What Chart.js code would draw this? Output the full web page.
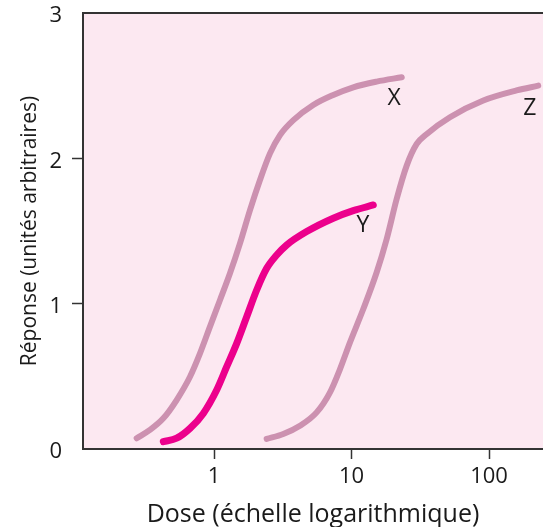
<!DOCTYPE html>
<html>
<head>
<meta charset="utf-8">
<script src="https://cdn.jsdelivr.net/npm/chart.js@4/dist/chart.umd.min.js"></script>
<style>
  html, body { margin: 0; padding: 0; background: #fff; }
  #box { width: 543px; height: 527px; }
</style>
</head>
<body>
<div id="box"><canvas id="myChart"></canvas></div>
<script>
// courbes dose-réponse
var doseX = [0.274, 0.342, 0.428, 0.535, 0.669, 0.791, 0.935, 1.106, 1.307, 1.545, 1.827, 2.16, 2.554, 3.02, 3.78, 5.27, 7.37, 10.3, 15.25, 23.2];
var repX  = [0.074, 0.131, 0.211, 0.337, 0.497, 0.658, 0.842, 1.025, 1.209, 1.415, 1.644, 1.851, 2.034, 2.16, 2.263, 2.367, 2.436, 2.489, 2.528, 2.558];

var doseY = [0.428, 0.535, 0.669, 0.836, 1.046, 1.237, 1.463, 1.729, 2.044, 2.416, 2.857, 3.38, 4.72, 7.37, 10.3, 14.4];
var repY  = [0.05, 0.074, 0.142, 0.245, 0.406, 0.566, 0.727, 0.91, 1.094, 1.243, 1.335, 1.404, 1.496, 1.588, 1.64, 1.679];

var doseZ = [2.416, 3.19, 4.22, 5.58, 6.98, 8.25, 9.75, 12.18, 15.25, 18.03, 21.3, 25.2, 29.8, 35.3, 52, 90.9, 158.6, 228];
var repZ  = [0.069, 0.103, 0.16, 0.252, 0.39, 0.55, 0.734, 0.963, 1.216, 1.445, 1.72, 1.95, 2.099, 2.168, 2.283, 2.398, 2.467, 2.5];

var xTicks = [1, 10, 100];
var yTicks = [0, 1, 2, 3];

var noms = ['X', 'Y', 'Z'];
var posNoms = [[20.4, 2.41], [12.1, 1.535], [198, 2.345]];

function points(d, r) {
    return d.map(function (v, i) { return {x: v, y: r[i]}; });
}

var police = '"Open Sans", "DejaVu Sans", sans-serif';
var encre = '#1a1a1a';

// fond rose, bord du haut et lettres des courbes
const decor = {
    id: 'decor',
    beforeDraw(chart) {
        var a = chart.chartArea, ctx = chart.ctx;
        ctx.save();
        ctx.fillStyle = '#fce8f1';
        ctx.fillRect(a.left, a.top, a.right - a.left, a.bottom - a.top);
        ctx.restore();
    },
    afterDraw(chart) {
        var a = chart.chartArea, ctx = chart.ctx;
        ctx.save();
        ctx.strokeStyle = '#333';
        ctx.lineWidth = 2;
        ctx.beginPath();
        ctx.moveTo(a.left - 1, a.top);
        ctx.lineTo(a.right, a.top);
        ctx.stroke();
        ctx.fillStyle = encre;
        ctx.font = '23px ' + police;
        ctx.textAlign = 'center';
        ctx.textBaseline = 'middle';
        noms.forEach(function (n, i) {
            var px = chart.scales.x.getPixelForValue(posNoms[i][0]);
            var py = chart.scales.y.getPixelForValue(posNoms[i][1]);
            ctx.fillText(n, px, py);
        });
        ctx.restore();
    }
};

var ctx1 = document.getElementById('myChart').getContext('2d');
const myChart = new Chart(ctx1, {
    type: 'line',
    data: {
        datasets: [{
            label: 'X',
            data: points(doseX, repX),
            borderColor: '#cc91b0',
            borderWidth: 6
        }, {
            label: 'Z',
            data: points(doseZ, repZ),
            borderColor: '#cc91b0',
            borderWidth: 6
        }, {
            label: 'Y',
            data: points(doseY, repY),
            borderColor: '#ec008c',
            borderWidth: 7
        }]
    },
    options: {
        responsive: true,
        maintainAspectRatio: false,
        animation: false,
        layout: { padding: { top: 13, right: 0, left: 0, bottom: 0 } },
        elements: {
            point: { radius: 0 },
            line: { cubicInterpolationMode: 'monotone', borderCapStyle: 'round', borderJoinStyle: 'round', fill: false }
        },
        plugins: {
            legend: { display: false },
            tooltip: { enabled: false }
        },
        scales: {
            x: {
                type: 'logarithmic',
                min: 0.1115,
                max: 247,
                afterBuildTicks: function (s) {
                    s.ticks = xTicks.map(function (v) { return {value: v}; });
                },
                afterFit: function (s) { s.height = 78; },
                ticks: {
                    color: encre,
                    font: { family: police, size: 22 },
                    padding: 5,
                    maxRotation: 0,
                    autoSkip: false,
                    callback: function (v) { return String(v); }
                },
                grid: { drawOnChartArea: false, drawTicks: true, tickLength: 10, tickColor: '#333', tickWidth: 1.5 },
                border: { display: true, color: '#333', width: 2 },
                title: {
                    display: true,
                    text: 'Dose (échelle logarithmique)',
                    color: encre,
                    font: { family: police, size: 25, lineHeight: 1 },
                    padding: { top: 0, bottom: 0 }
                }
            },
            y: {
                min: 0,
                max: 3,
                afterBuildTicks: function (s) {
                    s.ticks = yTicks.map(function (v) { return {value: v}; });
                },
                afterFit: function (s) { s.width = 83; },
                ticks: {
                    color: encre,
                    font: { family: police, size: 22, lineHeight: 0.2 },
                    padding: 10,
                    labelOffset: 3,
                    callback: function (v) { return String(v); }
                },
                grid: {
                    drawOnChartArea: false,
                    drawTicks: true,
                    tickLength: 11,
                    tickWidth: 1.5,
                    tickColor: function (c) {
                        return (c.tick && (c.tick.value === 1 || c.tick.value === 2)) ? '#333' : 'rgba(0,0,0,0)';
                    }
                },
                border: { display: true, color: '#333', width: 2 },
                title: {
                    display: true,
                    text: 'Réponse (unités arbitraires)',
                    color: encre,
                    font: { family: police, size: 21 },
                    padding: { top: 17, bottom: 0 }
                }
            }
        }
    },
    plugins: [decor]
});
</script>
</body>
</html>
